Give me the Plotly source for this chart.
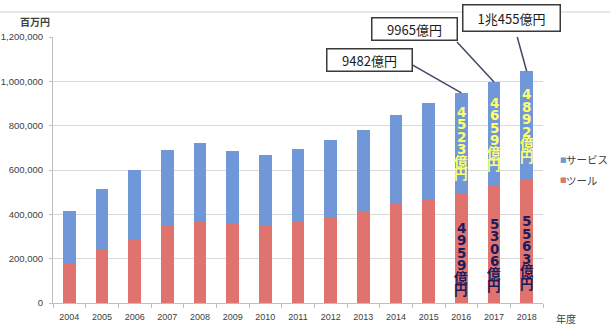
import plotly.graph_objects as go

years = ["2004", "2005", "2006", "2007", "2008", "2009", "2010", "2011",
         "2012", "2013", "2014", "2015", "2016", "2017", "2018"]
tool = [178800, 237500, 290300, 347600, 371600, 358000, 353500, 365700,
        386500, 413500, 449700, 471000, 495900, 530600, 556300]
service = [234700, 277200, 311500, 341400, 348900, 328200, 312900, 329600,
           347500, 367500, 399100, 430000, 452300, 465900, 489200]

label_years = ["2016", "2017", "2018"]
total_labels = ["9482億円", "9965億円", "1兆455億円"]
service_labels = ["4523億円", "4659億円", "4892億円"]
tool_labels = ["4959億円", "5306億円", "5563億円"]

y_ticks = [0, 200000, 400000, 600000, 800000, 1000000, 1200000]
y_ticktext = ["0", "200,000", "400,000", "600,000", "800,000", "1,000,000", "1,200,000"]

BLUE = "#7098D8"
RED = "#E0736E"
FONT = "Noto Sans CJK JP"

fig = go.Figure()
fig.add_trace(go.Bar(x=years, y=tool, name="ツール", marker_color=RED,
                     marker_line_width=0, showlegend=False))
fig.add_trace(go.Bar(x=years, y=service, name="サービス", marker_color=BLUE,
                     marker_line_width=0, showlegend=False))

annotations = []
shapes = []

# callout boxes with leader lines
box_cfg = [
    dict(ax=-92, ay=-33, w=80, h=17, lx=-49, ly=28, size=13),
    dict(ax=-80, ay=-53, w=80, h=17, lx=-37, ly=40, size=13),
    dict(ax=-15, ay=-53, w=92, h=21, lx=-11, ly=40, size=13),
]
for yr, lab, cfg in zip(label_years, total_labels, box_cfg):
    i = years.index(yr)
    tot = tool[i] + service[i]
    annotations.append(dict(
        x=i, y=tot, xref="x", yref="y", text=lab, showarrow=True,
        ax=cfg["ax"], ay=cfg["ay"], arrowcolor="rgba(0,0,0,0)", arrowwidth=0.1,
        width=cfg["w"], height=cfg["h"], bgcolor="white",
        bordercolor="#3A3A3A", borderwidth=1.5, borderpad=2,
        font=dict(family=FONT, size=cfg["size"], color="#1A1A1A")))
    shapes.append(dict(
        type="line", xref="x", yref="y", xsizemode="pixel", ysizemode="pixel",
        xanchor=i, yanchor=tot, x0=0, y0=0, x1=cfg["lx"], y1=cfg["ly"],
        line=dict(color="#3F4866", width=1.5), layer="above"))

# vertical in-bar labels
STEP = 12.5
def vertical(i, center, text, color, shift=0):
    n = len(text)
    for k, ch in enumerate(text):
        annotations.append(dict(
            x=i, y=center, xref="x", yref="y", text=ch, showarrow=False,
            yshift=((n - 1) / 2 - k) * STEP + shift,
            font=dict(family="DejaVu Sans, Noto Sans CJK JP", size=13.5,
                      color=color, weight="bold")))

for yr, sl, tl in zip(label_years, service_labels, tool_labels):
    i = years.index(yr)
    vertical(i, tool[i] + service[i] / 2, sl, "#FFFF6E")
    vertical(i, tool[i] / 2, tl, "#1C1C5C", shift=-11)

# axis captions
annotations.append(dict(x=-0.037, y=1.058, xref="paper", yref="paper", text="<b>百万円</b>",
                        showarrow=False, xanchor="center", yanchor="middle",
                        font=dict(family=FONT, size=10, color="#404040")))
annotations.append(dict(x=1.046, y=-0.058, xref="paper", yref="paper", text="年度",
                        showarrow=False, xanchor="center", yanchor="middle",
                        font=dict(family=FONT, size=10, color="#404040")))

# legend
for name, col, yy in [("サービス", BLUE, 0.538), ("ツール", RED, 0.462)]:
    annotations.append(dict(x=1.031, y=yy, xref="paper", yref="paper", text="■",
                            showarrow=False, xanchor="left", yanchor="middle",
                            font=dict(family="DejaVu Sans", size=7, color=col)))
    annotations.append(dict(x=1.043, y=yy, xref="paper", yref="paper", text=name,
                            showarrow=False, xanchor="left", yanchor="middle",
                            font=dict(family=FONT, size=10.5, color="#404040")))

# top border line
shapes.append(dict(type="line", xref="paper", yref="paper", x0=-0.11, x1=1.14,
                   y0=1.094, y1=1.094, line=dict(color="#D0D0D0", width=1)))

fig.update_layout(
    width=610, height=326, barmode="stack", bargap=0.61,
    margin=dict(l=53, r=67, t=37, b=23, autoexpand=False),
    paper_bgcolor="white", plot_bgcolor="white",
    annotations=annotations, shapes=shapes,
    xaxis=dict(type="category", range=[-0.5, len(years) - 0.5], automargin=False,
               showline=True, linecolor="#BFBFBF", linewidth=1,
               ticks="outside", tickson="boundaries", ticklen=4, tickcolor="#BFBFBF",
               ticklabelstandoff=5,
               tickfont=dict(family="Liberation Sans", size=9, color="#404040"),
               showgrid=False),
    yaxis=dict(range=[0, 1200000], tickvals=y_ticks, ticktext=y_ticktext,
               automargin=False,
               showline=True, linecolor="#BFBFBF", linewidth=1,
               ticks="outside", ticklen=3, tickcolor="#BFBFBF",
               ticklabelstandoff=4,
               gridcolor="#D9D9D9", gridwidth=1, zeroline=False,
               tickfont=dict(family="Liberation Sans", size=9.5, color="#404040")),
)

fig.write_html("out.html")
